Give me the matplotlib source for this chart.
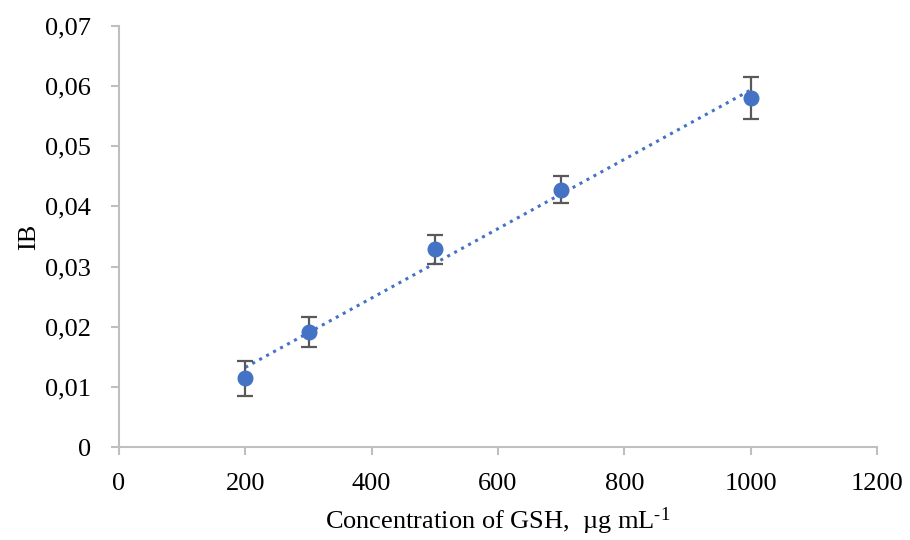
import matplotlib
matplotlib.use("Agg")
import matplotlib.pyplot as plt
import numpy as np
from matplotlib.ticker import FuncFormatter

conc = [200, 300, 500, 700, 1000]
ib = [0.0114, 0.0191, 0.0329, 0.0428, 0.0580]
err = [0.0029, 0.0025, 0.0024, 0.0022, 0.0035]

x_ticks = [0, 200, 400, 600, 800, 1000, 1200]
y_ticks = [0, 0.01, 0.02, 0.03, 0.04, 0.05, 0.06, 0.07]

plt.rcParams['font.family'] = ['Liberation Serif', 'DejaVu Serif']
plt.rcParams['mathtext.fontset'] = 'custom'
plt.rcParams['mathtext.rm'] = 'Liberation Serif'
plt.rcParams['mathtext.it'] = 'Liberation Serif:italic'

fig = plt.figure(figsize=(9.1, 5.4), dpi=100)
ax = fig.add_axes([0.1308, 0.1722, 0.8329, 0.7797])

# trendline
coef = np.polyfit(conc, ib, 1)
xl = np.array([min(conc), max(conc)])
ax.plot(xl, np.polyval(coef, xl), linestyle=(0, (1, 1.6)), color='#4472C4', linewidth=2.2, zorder=2)

ax.errorbar(conc, ib, yerr=err, fmt='none', ecolor='#595959', elinewidth=1.6,
            capsize=6, capthick=1.6, zorder=3)
ax.plot(conc, ib, 'o', color='#4472C4', markersize=10.5, zorder=4)

ax.set_xlim(0, 1200)
ax.set_ylim(0, 0.07)
ax.set_xticks(x_ticks)
ax.set_yticks(y_ticks)
ax.yaxis.set_major_formatter(FuncFormatter(lambda v, p: '0' if v == 0 else f'{v:.2f}'.replace('.', ',')))

for s in ['top', 'right']:
    ax.spines[s].set_visible(False)
for s in ['left', 'bottom']:
    ax.spines[s].set_color('#BFBFBF')
    ax.spines[s].set_linewidth(1.5)
ax.tick_params(axis='both', direction='out', length=6, width=1.5, color='#BFBFBF',
               labelsize=19, labelcolor='#000000')
ax.tick_params(axis='x', pad=13)
ax.tick_params(axis='y', pad=14)

ax.set_xlabel(r'Concentration of GSH,  µg mL$^{\text{-1}}$', fontsize=19, labelpad=7)
ax.set_ylabel('IB', fontsize=19, labelpad=4)

fig.savefig('out.png', dpi=100)
